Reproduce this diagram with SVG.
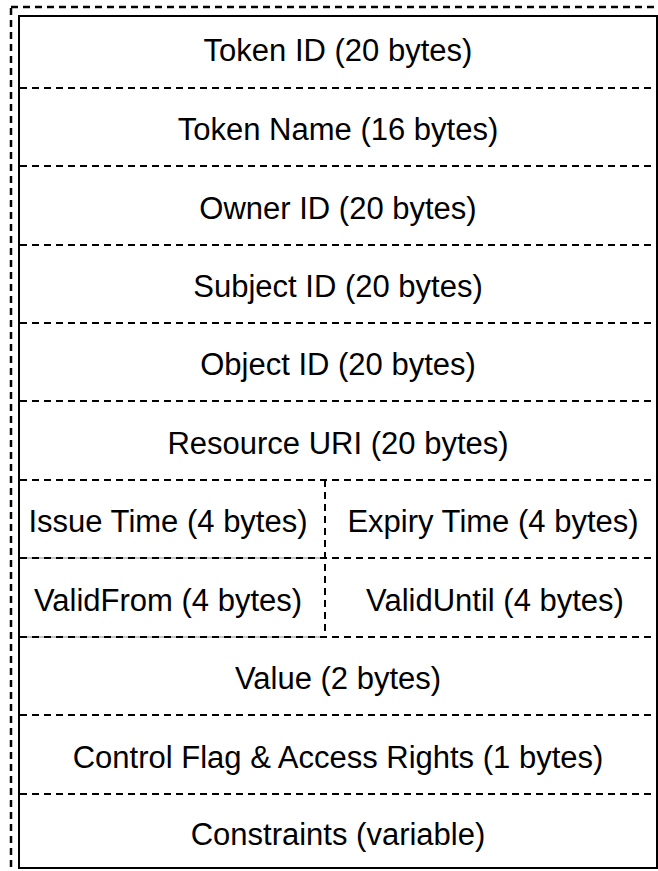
<svg xmlns="http://www.w3.org/2000/svg" width="658" height="871" viewBox="0 0 658 871">
<style>
.t{font-family:"Liberation Sans",Arial,Helvetica,sans-serif;font-size:31px;fill:#000;text-anchor:middle}
.d{stroke:#000;stroke-width:2;stroke-dasharray:7 5;fill:none}
.s{stroke:#000;stroke-width:2;fill:none}
.g{stroke:#888;stroke-width:1;fill:none}
</style>
<rect width="658" height="871" fill="#fff"/>
<g id="frame">
<rect x="11" y="7" width="700" height="900" fill="none" stroke="#000" stroke-width="2.5" stroke-dasharray="7 5"/>
<rect x="19" y="16" width="638" height="852" class="s"/>
</g>
<g id="connectors">
<line x1="20" y1="88" x2="656" y2="88" class="d"/>
<line x1="20" y1="166" x2="656" y2="166" class="d"/>
<line x1="20" y1="245" x2="656" y2="245" class="d"/>
<line x1="20" y1="323" x2="656" y2="323" class="d"/>
<line x1="20" y1="401" x2="656" y2="401" class="d"/>
<line x1="20" y1="480" x2="656" y2="480" class="d"/>
<line x1="20" y1="558" x2="325" y2="558" class="g"/>
<line x1="20" y1="637" x2="325" y2="637" class="g"/>
<line x1="20" y1="558" x2="656" y2="558" class="d"/>
<line x1="20" y1="637" x2="656" y2="637" class="d"/>
<line x1="20" y1="715" x2="656" y2="715" class="d"/>
<line x1="20" y1="794" x2="656" y2="794" class="d"/>
<line x1="325" y1="480" x2="325" y2="637" class="d"/>
</g>
<g id="token-id"><text class="t" x="338" y="61">Token ID (20 bytes)</text></g>
<g id="token-name"><text class="t" x="338" y="140">Token Name (16 bytes)</text></g>
<g id="owner-id"><text class="t" x="338" y="219">Owner ID (20 bytes)</text></g>
<g id="subject-id"><text class="t" x="338" y="297">Subject ID (20 bytes)</text></g>
<g id="object-id"><text class="t" x="338" y="375">Object ID (20 bytes)</text></g>
<g id="resource-uri"><text class="t" x="338" y="454">Resource URI (20 bytes)</text></g>
<g id="issue-time"><text class="t" x="168" y="532">Issue Time (4 bytes)</text></g>
<g id="expiry-time"><text class="t" x="493" y="532">Expiry Time (4 bytes)</text></g>
<g id="valid-from"><text class="t" x="168" y="611">ValidFrom (4 bytes)</text></g>
<g id="valid-until"><text class="t" x="495" y="611">ValidUntil (4 bytes)</text></g>
<g id="value"><text class="t" x="338" y="689">Value (2 bytes)</text></g>
<g id="control-flag"><text class="t" x="338" y="768">Control Flag &amp; Access Rights (1 bytes)</text></g>
<g id="constraints"><text class="t" x="338" y="845">Constraints (variable)</text></g>
</svg>
